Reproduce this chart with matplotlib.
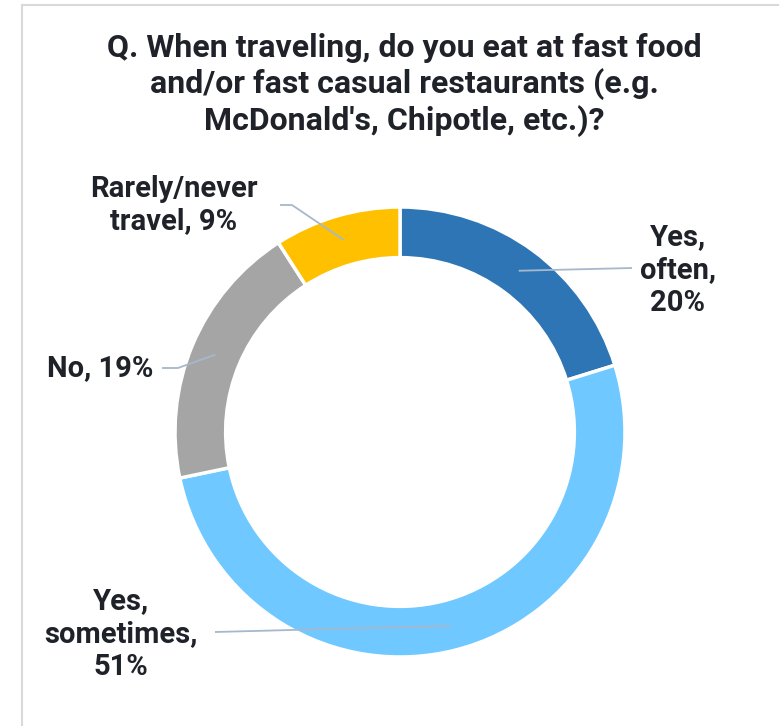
import matplotlib
matplotlib.use("Agg")
import matplotlib.pyplot as plt
from matplotlib.lines import Line2D
import numpy as np

plt.rcParams['font.family'] = ['Roboto', 'DejaVu Sans']

title = "Q. When traveling, do you eat at fast food\nand/or fast casual restaurants (e.g.\nMcDonald's, Chipotle, etc.)?"
categories = ["Yes, often", "Yes, sometimes", "No", "Rarely/never travel"]
labels = ["Yes,\noften,\n20%", "Yes,\nsometimes,\n51%", "No, 19%", "Rarely/never\ntravel, 9%"]
values = [20, 51, 19, 9]
colors = ["#2E75B6", "#6FC8FF", "#A5A5A5", "#FFC000"]

W, H = 779, 726
fig = plt.figure(figsize=(W / 100, H / 100), dpi=100)
fig.patch.set_facecolor("white")

# frame border (left and top)
bc = "#D9D9D9"
fig.add_artist(Line2D([22 / W, 22 / W], [0, 1 - 5 / H], color=bc, lw=1.5, transform=fig.transFigure))
fig.add_artist(Line2D([22 / W, 1.0], [1 - 5 / H, 1 - 5 / H], color=bc, lw=1.5, transform=fig.transFigure))

cx, cy, R = 400, 432, 225
ax = fig.add_axes([(cx - R) / W, 1 - (cy + R) / H, 2 * R / W, 2 * R / H])
ax.axis("off")

wedges, _ = ax.pie(values, colors=colors, startangle=90, counterclock=False,
                   radius=1.0, wedgeprops=dict(width=0.225, edgecolor="white", linewidth=2.5))
ax.set_xlim(-1, 1)
ax.set_ylim(-1, 1)
ax.set_aspect("auto")

def px(x, y):
    return ((x - cx) / R, (cy - y) / R)

# label layout (pixel positions): text center, elbow points
layout = [
    dict(text=(678, 270), path=[(632, 268)]),
    dict(text=(121, 634), path=[(215, 632)]),
    dict(text=(100, 368), path=[(178, 368), (162, 368)]),
    dict(text=(174, 205), path=[(292, 205), (280, 205)]),
]

lc = "#A6B8CC"
tc = "#1F2329"
for w, lab, lay in zip(wedges, labels, layout):
    ang = np.deg2rad((w.theta1 + w.theta2) / 2)
    r = 0.89
    ax_pt = (r * np.cos(ang), r * np.sin(ang))
    pts = [ax_pt] + [px(*p) for p in lay["path"]]
    xs, ys = zip(*pts)
    ax.plot(xs, ys, color=lc, lw=1.3, solid_capstyle="butt", clip_on=False)
    tx, ty = px(*lay["text"])
    ax.text(tx, ty, lab, ha="center", va="center", fontsize=21, fontweight="bold",
            color=tc, linespacing=1.22, clip_on=False)

fig.text(404 / W, 1 - 85 / H, title, ha="center", va="center", fontsize=23,
         fontweight="bold", color=tc, linespacing=1.22)

fig.savefig("out.png", dpi=100, facecolor="white")
